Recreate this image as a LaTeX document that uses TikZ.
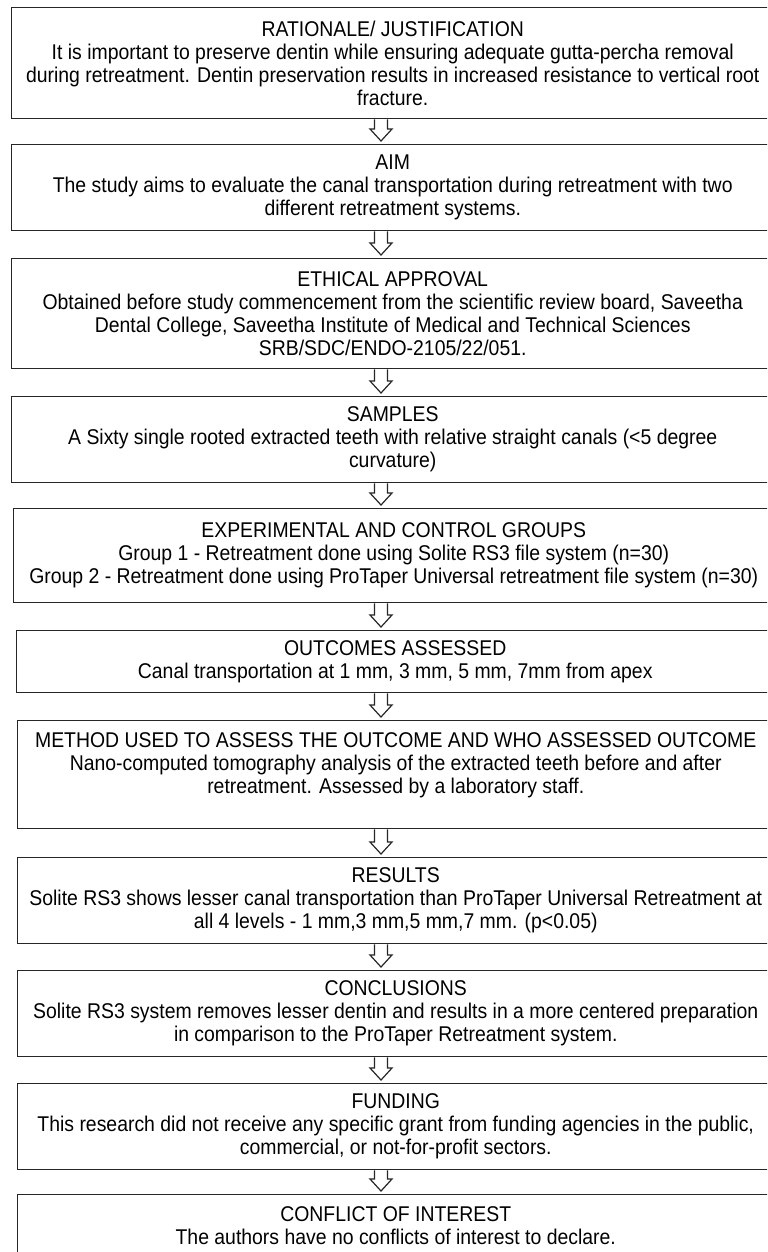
\documentclass[tikz,border=0pt]{standalone}
\usepackage{fontspec}
\setmainfont{Liberation Sans}[FakeStretch=0.91]
\usetikzlibrary{calc}

\tikzset{
	stage/.style = {draw = black!85,
					line width = 1.1pt,
					anchor = north west,
					align = center,
					inner sep = 0pt,
					font = \fontsize{16pt}{17.25pt}\selectfont},
	flowarrow/.style = {draw = black!85,
						line width = 0.9pt,
						line join = miter},
}

% hollow down arrow from one stage to the next, on the column (ax)
\newcommand{\hollowdown}[2]{%
	\draw[flowarrow] ($(#1.south -| ax)+(-6.5,0)$) -- ($(#2.north -| ax)+(-6.5,-15)$)
		-- ($(#2.north -| ax)+(-11,-15)$) -- ($(#2.north -| ax)+(0,-3)$)
		-- ($(#2.north -| ax)+(11,-15)$) -- ($(#2.north -| ax)+(6.5,-15)$)
		-- ($(#1.south -| ax)+(6.5,0)$);}

\begin{document}
\begin{tikzpicture}[x = 0.75pt, y = -0.75pt]

	\useasboundingbox (0,0) rectangle (767,1252);
	\clip (0,0) rectangle (767,1252);
	\coordinate (ax) at (381,0);

	\node[stage, minimum width = 762*0.75pt, minimum height = 111*0.75pt] (rationale) at (11,7)
		{RATIONALE/ JUSTIFICATION\\
		 It is important to preserve dentin while ensuring adequate gutta-percha removal\\
		 during retreatment. Dentin preservation results in increased resistance to vertical root\\
		 fracture.};

	\node[stage, minimum width = 762*0.75pt, minimum height = 86*0.75pt] (aim) at (11,144)
		{AIM\\
		 The study aims to evaluate the canal transportation during retreatment with two\\
		 different retreatment systems.};

	\node[stage, minimum width = 762*0.75pt, minimum height = 110*0.75pt] (ethics) at (11,258)
		{ETHICAL APPROVAL\\
		 Obtained before study commencement from the scientific review board, Saveetha\\
		 Dental College, Saveetha Institute of Medical and Technical Sciences\\
		 SRB/SDC/ENDO-2105/22/051.};

	\node[stage, minimum width = 762*0.75pt, minimum height = 86*0.75pt] (samples) at (11,396)
		{SAMPLES\\
		 A Sixty single rooted extracted teeth with relative straight canals (<5 degree\\
		 curvature)};

	\node[stage, minimum width = 760*0.75pt, minimum height = 94*0.75pt] (groups) at (13,508)
		{EXPERIMENTAL AND CONTROL GROUPS\\
		 Group 1 - Retreatment done using Solite RS3 file system (n=30)\\
		 Group 2 - Retreatment done using ProTaper Universal retreatment file system (n=30)};

	\node[stage, minimum width = 757*0.75pt, minimum height = 62*0.75pt] (outcomes) at (16,630)
		{OUTCOMES ASSESSED\\
		 Canal transportation at 1 mm, 3 mm, 5 mm, 7mm from apex};

	\node[stage, minimum width = 756*0.75pt, minimum height = 108*0.75pt] (method) at (17,720)
		{METHOD USED TO ASSESS THE OUTCOME AND WHO ASSESSED OUTCOME\\
		 Nano-computed tomography analysis of the extracted teeth before and after\\
		 retreatment. Assessed by a laboratory staff.\\
		 \mbox{}};

	\node[stage, minimum width = 756*0.75pt, minimum height = 86*0.75pt] (results) at (17,857)
		{RESULTS\\
		 Solite RS3 shows lesser canal transportation than ProTaper Universal Retreatment at\\
		 all 4 levels - 1 mm,3 mm,5 mm,7 mm. (p<0.05)};

	\node[stage, minimum width = 756*0.75pt, minimum height = 86*0.75pt] (conclusions) at (17,970)
		{CONCLUSIONS\\
		 Solite RS3 system removes lesser dentin and results in a more centered preparation\\
		 in comparison to the ProTaper Retreatment system.};

	\node[stage, minimum width = 756*0.75pt, minimum height = 86*0.75pt] (funding) at (17,1083)
		{FUNDING\\
		 This research did not receive any specific grant from funding agencies in the public,\\
		 commercial, or not-for-profit sectors.};

	\node[stage, minimum width = 756*0.75pt, minimum height = 62*0.75pt] (conflict) at (17,1194)
		{CONFLICT OF INTEREST\\
		 The authors have no conflicts of interest to declare.};

	\foreach \a/\b in {rationale/aim, aim/ethics, ethics/samples, samples/groups,
		groups/outcomes, outcomes/method, method/results, results/conclusions,
		conclusions/funding, funding/conflict}
		\hollowdown{\a}{\b};

\end{tikzpicture}
\end{document}
